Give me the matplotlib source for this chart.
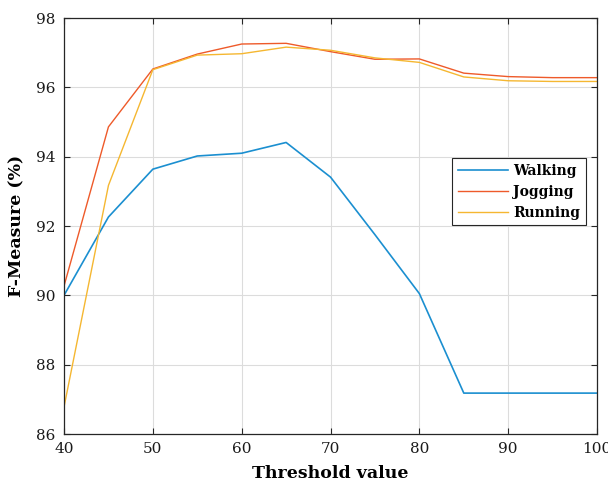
import numpy as np
import matplotlib.pyplot as plt

#########################################################
# data
#########################################################
threshold = [40, 45, 50, 55, 60, 65, 70, 75, 80, 85, 90, 95, 100]
walking = [90.0, 92.26, 93.64, 94.02, 94.10, 94.41, 93.41, 91.75, 90.05, 87.18, 87.18, 87.18, 87.18]
jogging = [90.27, 94.86, 96.53, 96.96, 97.25, 97.27, 97.03, 96.81, 96.82, 96.41, 96.31, 96.28, 96.28]
running = [86.78, 93.17, 96.51, 96.93, 96.97, 97.16, 97.07, 96.85, 96.72, 96.30, 96.19, 96.17, 96.17]

xticks = [40, 50, 60, 70, 80, 90, 100]
yticks = [86, 88, 90, 92, 94, 96, 98]

#########################################################
# plot
#########################################################
plt.rcParams["font.family"] = ["DejaVu Serif"]

fig = plt.figure(figsize=(6.08, 4.87), dpi=100)
ax = fig.add_axes([0.1053, 0.1088, 0.8767, 0.8542])

ax.plot(threshold, walking, color="#1b8fd0", lw=1.2, label="Walking")
ax.plot(threshold, jogging, color="#ee5a2a", lw=1.0, label="Jogging")
ax.plot(threshold, running, color="#f5b731", lw=1.0, label="Running")

ax.set_xlim(40, 100)
ax.set_ylim(86, 98)
ax.set_xticks(xticks)
ax.set_yticks(yticks)
ax.grid(True, color="#dcdcdc", lw=0.8)
ax.set_axisbelow(True)
ax.tick_params(direction="in", top=True, right=True, length=4, width=0.8,
               colors="#262626", labelsize=11, labelcolor="#1a1a1a", pad=6)
for s in ax.spines.values():
    s.set_color("#262626")
    s.set_linewidth(0.9)

ax.set_xlabel("Threshold value", fontsize=12.5, fontweight="bold", labelpad=6)
ax.set_ylabel("F-Measure (%)", fontsize=12.5, fontweight="bold", labelpad=8)

leg = ax.legend(loc="upper right", bbox_to_anchor=(0.979, 0.663),
                prop={"weight": "bold", "size": 10}, fancybox=False,
                edgecolor="#262626", framealpha=1, handlelength=3.6,
                borderpad=0.4, labelspacing=0.5, handletextpad=0.4,
                borderaxespad=0)
leg.get_frame().set_linewidth(0.8)

plt.savefig("out.png", dpi=100)
